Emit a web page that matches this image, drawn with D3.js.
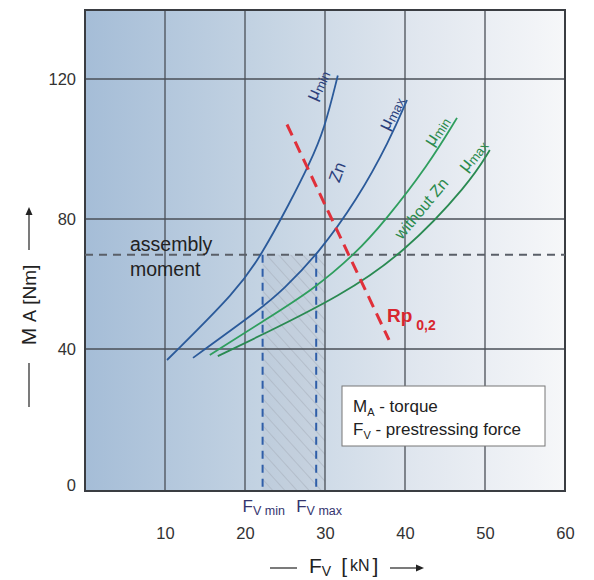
<!DOCTYPE html>
<html>
<head>
<meta charset="utf-8">
<script src="https://cdn.jsdelivr.net/npm/d3@7"></script>
<style>
  body { margin: 0; background: #fff; }
  svg { display: block; font-family: "Liberation Sans", Arial, sans-serif; }
</style>
</head>
<body>
<div id="chart"></div>
<script>
// tick values
const xTicks = [10, 20, 30, 40, 50, 60];
const yTicks = [0, 40, 80, 120];
const gridX = [10, 20, 30, 40, 50];
const gridY = [40, 80, 120];

// curves, [F_V kN, M_A Nm]
const znMuMin = [[10.25, 36.9], [19.1, 58.2], [22.1, 69.2], [25.6, 84.6], [28.1, 96], [29.9, 105.4], [31.6, 121]];
const znMuMax = [[13.5, 37.5], [22.1, 52.6], [24.75, 58.2], [29.1, 69.2], [34.0, 85.4], [38.1, 102.6], [40.25, 114]];
const noZnMuMin = [[15.6, 38.3], [22.1, 48.3], [28.5, 58.2], [33.75, 69.2], [37.4, 79.1], [42.9, 95.4], [46.5, 108.9]];
const noZnMuMax = [[16.6, 38.0], [22.1, 44.3], [31.9, 56.3], [39.75, 69.2], [48.1, 90.3], [50.6, 99.7]];
const rpLine = [[25.25, 107], [38, 42.8]];

const assemblyMoment = 69;
const fvMin = 22.2;
const fvMax = 28.9;

// rotated curve labels: text, subscript, x, y, angle
const curveLabels = [
  { t: 'μ', s: 'min', x: 29.0, y: 118.3, a: -66, c: '#2b3f7c' },
  { t: 'μ', s: 'max', x: 38.2, y: 110.3, a: -64, c: '#2b3f7c' },
  { t: 'Zn', s: '', x: 31.5, y: 93.4, a: -70, c: '#2b3f7c' },
  { t: 'μ', s: 'min', x: 43.9, y: 105.2, a: -57, c: '#2a8a4c' },
  { t: 'without Zn', s: '', x: 42.0, y: 83.1, a: -50, c: '#2a8a4c' },
  { t: 'μ', s: 'max', x: 48.4, y: 98.3, a: -52, c: '#2a8a4c' }
];

const W = 594, H = 580;
const svg = d3.select('#chart').append('svg').attr('width', W).attr('height', H);

const x = d3.scaleLinear().domain([0, 60]).range([85, 565]);
const y = d3.scaleLinear().domain([0, 40, 80, 120, 140]).range([491, 349, 219, 79, 10]);

const defs = svg.append('defs');
const grad = defs.append('linearGradient').attr('id', 'bg').attr('x1', 0).attr('x2', 1).attr('y1', 0).attr('y2', 0);
grad.append('stop').attr('offset', '0%').attr('stop-color', '#a5bdd7');
grad.append('stop').attr('offset', '35%').attr('stop-color', '#c2d2e2');
grad.append('stop').attr('offset', '70%').attr('stop-color', '#e1e7ef');
grad.append('stop').attr('offset', '100%').attr('stop-color', '#f6f7f9');

const hatch = defs.append('pattern').attr('id', 'hatch').attr('patternUnits', 'userSpaceOnUse')
  .attr('width', 9).attr('height', 9).attr('patternTransform', 'rotate(-42)');
hatch.append('line').attr('x1', 0).attr('y1', 0).attr('x2', 0).attr('y2', 9)
  .attr('stroke', '#a3abb7').attr('stroke-width', 1);

// background
svg.append('rect').attr('x', x(0)).attr('y', y(140)).attr('width', x(60) - x(0)).attr('height', y(0) - y(140))
  .attr('fill', 'url(#bg)');

// hatched band
svg.append('rect').attr('x', x(fvMin)).attr('y', y(assemblyMoment))
  .attr('width', x(30) - x(fvMin)).attr('height', y(0) - y(assemblyMoment))
  .attr('fill', 'rgba(175,182,195,0.22)');
svg.append('rect').attr('x', x(fvMin)).attr('y', y(assemblyMoment))
  .attr('width', x(30) - x(fvMin)).attr('height', y(0) - y(assemblyMoment))
  .attr('fill', 'url(#hatch)');

// grid
svg.append('g').selectAll('line').data(gridX).join('line')
  .attr('x1', d => x(d)).attr('x2', d => x(d)).attr('y1', y(140)).attr('y2', y(0))
  .attr('stroke', '#4a4f57').attr('stroke-width', 1.3);
svg.append('g').selectAll('line').data(gridY).join('line')
  .attr('x1', x(0)).attr('x2', x(60)).attr('y1', d => y(d)).attr('y2', d => y(d))
  .attr('stroke', '#4a4f57').attr('stroke-width', 1.3);

// frame
svg.append('rect').attr('x', x(0)).attr('y', y(140)).attr('width', x(60) - x(0)).attr('height', y(0) - y(140))
  .attr('fill', 'none').attr('stroke', '#3a3d42').attr('stroke-width', 2);

// axes (labels only)
const xAxis = svg.append('g').attr('transform', `translate(0,${y(0)})`)
  .call(d3.axisBottom(x).tickValues(xTicks).tickSize(0).tickPadding(36));
const yAxis = svg.append('g').attr('transform', `translate(${x(0)},0)`)
  .call(d3.axisLeft(y).tickValues(yTicks).tickSize(0).tickPadding(9));
[xAxis, yAxis].forEach(g => {
  g.select('.domain').remove();
  g.selectAll('text').attr('font-size', 16.5).attr('fill', '#333')
    .attr('font-family', '"Liberation Sans", Arial, sans-serif');
});
yAxis.selectAll('.tick').filter(d => d === 0).select('text').attr('dy', '-0.05em');

// assembly moment line
svg.append('line').attr('x1', x(0)).attr('x2', x(60)).attr('y1', y(assemblyMoment)).attr('y2', y(assemblyMoment))
  .attr('stroke', '#5a5f68').attr('stroke-width', 1.8).attr('stroke-dasharray', '8,6');

// F_V min / max verticals
svg.append('g').selectAll('line').data([fvMin, fvMax]).join('line')
  .attr('x1', d => x(d)).attr('x2', d => x(d)).attr('y1', y(assemblyMoment)).attr('y2', y(0))
  .attr('stroke', '#2f5ea8').attr('stroke-width', 2).attr('stroke-dasharray', '8,6');

const line = d3.line().x(d => x(d[0])).y(d => y(d[1])).curve(d3.curveBasis);

const curves = [
  { d: znMuMin, c: '#2b5a9a' },
  { d: znMuMax, c: '#2b5a9a' },
  { d: noZnMuMin, c: '#2f9e5e' },
  { d: noZnMuMax, c: '#2a8a52' }
];
svg.append('g').selectAll('path').data(curves).join('path')
  .attr('d', d => line(d.d)).attr('fill', 'none').attr('stroke', d => d.c).attr('stroke-width', 1.8);

// Rp 0,2
svg.append('path').attr('d', d3.line().x(d => x(d[0])).y(d => y(d[1]))(rpLine))
  .attr('fill', 'none').attr('stroke', '#e0303a').attr('stroke-width', 3).attr('stroke-dasharray', '12,7');

// curve labels
curveLabels.forEach(l => {
  const t = svg.append('text')
    .attr('transform', `translate(${x(l.x)},${y(l.y)}) rotate(${l.a})`)
    .attr('text-anchor', 'middle').attr('dominant-baseline', 'central')
    .attr('fill', l.c).attr('font-size', l.s ? 18 : (l.t === 'Zn' ? 17 : 16));
  t.append('tspan').text(l.t);
  if (l.s) t.append('tspan').attr('font-size', 13).attr('dy', 3).text(l.s);
});

// assembly moment text
svg.append('text').attr('x', 130).attr('y', 251).attr('font-size', 19.5).attr('fill', '#222').text('assembly');
svg.append('text').attr('x', 130).attr('y', 276).attr('font-size', 19.5).attr('fill', '#222').text('moment');

// Rp label
const rp = svg.append('text').attr('x', 387).attr('y', 322).attr('fill', '#d8262e').attr('font-weight', 'bold').attr('font-size', 19);
rp.append('tspan').text('Rp');
rp.append('tspan').attr('font-size', 14).attr('dx', 4).attr('dy', 8).text('0,2');

// F_V min / max labels
[[fvMin, 'min'], [fvMax, 'max']].forEach(([v, s]) => {
  const t = svg.append('text').attr('x', x(v) - 20).attr('y', 512).attr('fill', '#34346e').attr('font-size', 17);
  t.append('tspan').text('F');
  t.append('tspan').attr('font-size', 12.5).attr('dy', 3).text('V ' + s);
});

// legend box
svg.append('rect').attr('x', 342).attr('y', 386).attr('width', 203).attr('height', 60)
  .attr('fill', '#fff').attr('stroke', '#777').attr('stroke-width', 1);
const l1 = svg.append('text').attr('x', 353).attr('y', 412).attr('font-size', 17).attr('fill', '#222');
l1.append('tspan').text('M');
l1.append('tspan').attr('font-size', 11).attr('dy', 4).text('A');
l1.append('tspan').attr('dy', -4).text(' - torque');
const l2 = svg.append('text').attr('x', 353).attr('y', 435).attr('font-size', 17).attr('fill', '#222');
l2.append('tspan').text('F');
l2.append('tspan').attr('font-size', 11).attr('dy', 4).text('V');
l2.append('tspan').attr('dy', -4).text('  - prestressing force');

// x axis title
const xt = svg.append('g').attr('fill', '#222').attr('stroke', '#222');
xt.append('line').attr('x1', 270).attr('x2', 297).attr('y1', 568).attr('y2', 568).attr('stroke-width', 1.2);
const xtt = xt.append('text').attr('x', 309).attr('y', 573).attr('stroke', 'none').attr('font-size', 21);
xtt.append('tspan').text('F');
xtt.append('tspan').attr('font-size', 14).attr('dy', 3).text('V');
xtt.append('tspan').attr('dy', -3).attr('dx', 10).attr('font-size', 21).text('[');
xtt.append('tspan').attr('font-size', 16).attr('dx', 3).attr('dy', -2).text('kN');
xtt.append('tspan').attr('font-size', 21).attr('dx', 3).attr('dy', 2).text(']');
xt.append('line').attr('x1', 390).attr('x2', 416).attr('y1', 568).attr('y2', 568).attr('stroke-width', 1.2);
xt.append('path').attr('d', 'M416,564.5 L424,568 L416,571.5 Z').attr('stroke', 'none');

// y axis title
const yt = svg.append('g').attr('transform', 'translate(29,307) rotate(-90)').attr('fill', '#222').attr('stroke', '#222');
yt.append('line').attr('x1', -100).attr('x2', -56).attr('y1', 0).attr('y2', 0).attr('stroke-width', 1.2);
const ytt = yt.append('text').attr('x', 2).attr('y', 7).attr('text-anchor', 'middle').attr('stroke', 'none').attr('font-size', 21);
ytt.append('tspan').text('M ');
ytt.append('tspan').attr('font-size', 18).text('A');
ytt.append('tspan').attr('font-size', 19).text(' [Nm]');
yt.append('line').attr('x1', 57).attr('x2', 92).attr('y1', 0).attr('y2', 0).attr('stroke-width', 1.2);
yt.append('path').attr('d', 'M92,-3.5 L100,0 L92,3.5 Z').attr('stroke', 'none');
</script>
</body>
</html>
